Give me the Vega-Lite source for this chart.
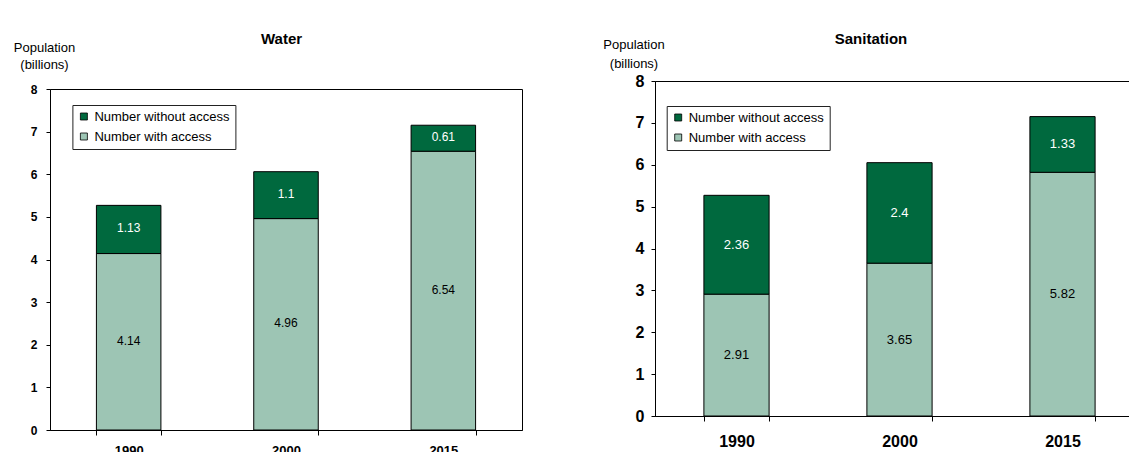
{
  "$schema": "https://vega.github.io/schema/vega-lite/v6.json",
  "background": "white",
  "padding": {"left": 12, "top": 11, "right": 0, "bottom": 0},
  "spacing": 79,
  "datasets": {
    "d": [
      {"panel": "Water", "year": "1990", "category": "Number with access", "value": 4.14},
      {"panel": "Water", "year": "1990", "category": "Number without access", "value": 1.13},
      {"panel": "Water", "year": "2000", "category": "Number with access", "value": 4.96},
      {"panel": "Water", "year": "2000", "category": "Number without access", "value": 1.1},
      {"panel": "Water", "year": "2015", "category": "Number with access", "value": 6.54},
      {"panel": "Water", "year": "2015", "category": "Number without access", "value": 0.61},
      {"panel": "Sanitation", "year": "1990", "category": "Number with access", "value": 2.91},
      {"panel": "Sanitation", "year": "1990", "category": "Number without access", "value": 2.36},
      {"panel": "Sanitation", "year": "2000", "category": "Number with access", "value": 3.65},
      {"panel": "Sanitation", "year": "2000", "category": "Number without access", "value": 2.4},
      {"panel": "Sanitation", "year": "2015", "category": "Number with access", "value": 5.82},
      {"panel": "Sanitation", "year": "2015", "category": "Number without access", "value": 1.33}
    ],
    "empty": [{}]
  },
  "resolve": {"scale": {"color": "independent"}, "legend": {"color": "independent"}},
  "config": {
    "font": "Liberation Sans",
    "view": {"stroke": "black", "strokeWidth": 1},
    "axis": {
      "domainColor": "black", "tickColor": "black", "labelColor": "black", "titleColor": "black",
      "grid": false, "labelFont": "Liberation Sans", "titleFont": "Liberation Sans",
      "domainWidth": 1, "tickWidth": 1, "labelOverlap": false, "labelFlush": false
    },
    "legend": {
      "labelFont": "Liberation Sans", "labelColor": "black", "labelFontSize": 13,
      "symbolType": "square", "symbolSize": 49, "symbolStrokeColor": "black", "symbolStrokeWidth": 0.8,
      "strokeColor": "#222222", "fillColor": "white", "padding": 5, "rowPadding": 6, "labelOffset": 4
    }
  },
  "hconcat": [
    {
      "spacing": 0,
      "resolve": {"scale": {"color": "independent"}, "legend": {"color": "independent"}},
      "vconcat": [
        {"width": 10, "height": 0, "data": {"name": "empty"}, "mark": {"type": "point", "opacity": 0}, "encoding": {}, "view": {"stroke": null}},
        {
          "width": 472,
          "height": 341,
          "title": {"text": "Water", "font": "Liberation Sans", "fontSize": 15, "fontWeight": "bold", "color": "black", "anchor": "middle", "frame": "group", "dx": -4.5, "offset": -18, "baseline": "alphabetic"},
          "data": {"name": "d"},
          "transform": [{"filter": "datum.panel == 'Water'"}],
          "layer": [
            {
              "mark": {"type": "bar", "stroke": "black", "strokeWidth": 1},
              "encoding": {
                "x": {
                  "field": "year", "type": "nominal",
                  "scale": {"paddingInner": 0.59, "paddingOuter": 0.295},
                  "axis": {"title": null, "tickBand": "extent", "labelAngle": 0, "labelFontSize": 13, "labelFontWeight": "bold", "labelPadding": 9, "tickSize": 5}
                },
                "y": {
                  "field": "value", "type": "quantitative", "stack": "zero",
                  "scale": {"domain": [0, 8], "nice": false},
                  "axis": {
                    "title": ["Population", "(billions)"], "titleAngle": 0, "titleAlign": "center", "titleBaseline": "alphabetic",
                    "titleX": -6, "titleY": -37.7, "titleFontSize": 13, "titleFontWeight": "normal", "titleLineHeight": 17.5,
                    "values": [0, 1, 2, 3, 4, 5, 6, 7, 8], "labelFontSize": 12, "labelFontWeight": "bold", "tickSize": 4, "labelPadding": 9
                  }
                },
                "color": {
                  "field": "category", "type": "nominal",
                  "scale": {"domain": ["Number without access", "Number with access"], "range": ["#00693E", "#9DC5B4"]},
                  "legend": {"title": null, "orient": "none", "legendX": 22.4, "legendY": 16}
                },
                "order": {"field": "category", "sort": "ascending"}
              }
            },
            {
              "transform": [
                {"stack": "value", "groupby": ["year"], "sort": [{"field": "category", "order": "ascending"}], "as": ["v0", "v1"]},
                {"calculate": "(datum.v0 + datum.v1) / 2", "as": "mid"}
              ],
              "mark": {"type": "text", "fontSize": 12, "baseline": "middle", "align": "center", "dy": -1, "font": "Liberation Sans"},
              "encoding": {
                "x": {"field": "year", "type": "nominal"},
                "y": {"field": "mid", "type": "quantitative"},
                "text": {"field": "value", "type": "nominal"},
                "color": {"condition": {"test": "datum.category == 'Number without access'", "value": "white"}, "value": "black"}
              }
            }
          ]
        }
      ]
    },
    {
      "spacing": 0,
      "resolve": {"scale": {"color": "independent"}, "legend": {"color": "independent"}},
      "vconcat": [
        {"width": 10, "height": 0, "data": {"name": "empty"}, "mark": {"type": "point", "opacity": 0}, "encoding": {}, "view": {"stroke": null}},
        {
          "width": 489,
          "height": 335,
          "title": {"text": "Sanitation", "font": "Liberation Sans", "fontSize": 15, "fontWeight": "bold", "color": "black", "anchor": "middle", "frame": "group", "dx": -28.5, "offset": -21.3, "baseline": "alphabetic"},
          "data": {"name": "d"},
          "transform": [{"filter": "datum.panel == 'Sanitation'"}],
          "layer": [
            {
              "mark": {"type": "bar", "stroke": "black", "strokeWidth": 1},
              "encoding": {
                "x": {
                  "field": "year", "type": "nominal",
                  "scale": {"paddingInner": 0.6, "paddingOuter": 0.3},
                  "axis": {"title": null, "tickBand": "extent", "labelAngle": 0, "labelFontSize": 16, "labelFontWeight": "bold", "labelPadding": 12.5, "tickSize": 5}
                },
                "y": {
                  "field": "value", "type": "quantitative", "stack": "zero",
                  "scale": {"domain": [0, 8], "nice": false},
                  "axis": {
                    "title": ["Population", "(billions)"], "titleAngle": 0, "titleAlign": "center", "titleBaseline": "alphabetic",
                    "titleX": -21.5, "titleY": -33, "titleFontSize": 13, "titleFontWeight": "normal", "titleLineHeight": 19,
                    "values": [0, 1, 2, 3, 4, 5, 6, 7, 8], "labelFontSize": 16, "labelFontWeight": "bold", "tickSize": 4, "labelPadding": 7
                  }
                },
                "color": {
                  "field": "category", "type": "nominal",
                  "scale": {"domain": ["Number without access", "Number with access"], "range": ["#00693E", "#9DC5B4"]},
                  "legend": {"title": null, "orient": "none", "legendX": 11.7, "legendY": 25}
                },
                "order": {"field": "category", "sort": "ascending"}
              }
            },
            {
              "transform": [
                {"stack": "value", "groupby": ["year"], "sort": [{"field": "category", "order": "ascending"}], "as": ["v0", "v1"]},
                {"calculate": "(datum.v0 + datum.v1) / 2", "as": "mid"}
              ],
              "mark": {"type": "text", "fontSize": 13, "baseline": "middle", "align": "center", "font": "Liberation Sans"},
              "encoding": {
                "x": {"field": "year", "type": "nominal"},
                "y": {"field": "mid", "type": "quantitative"},
                "text": {"field": "value", "type": "nominal"},
                "color": {"condition": {"test": "datum.category == 'Number without access'", "value": "white"}, "value": "black"}
              }
            }
          ]
        }
      ]
    }
  ]
}
